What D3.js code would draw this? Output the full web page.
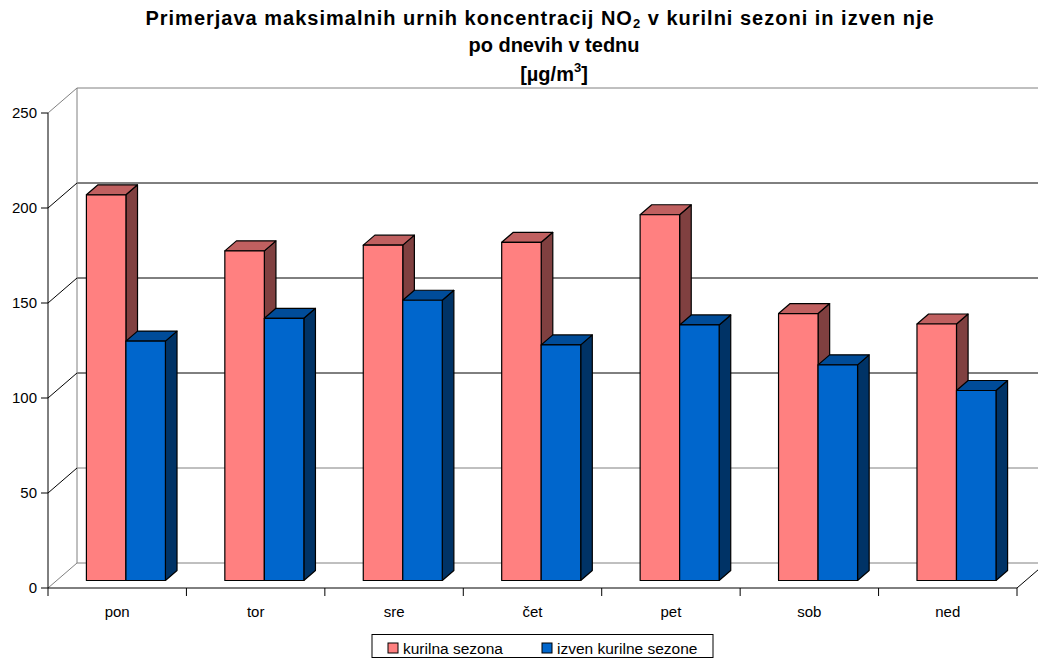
<!DOCTYPE html>
<html><head><meta charset="utf-8">
<script src="https://cdn.jsdelivr.net/npm/d3@7"></script>
<style>
html,body{margin:0;padding:0;background:#fff;}
svg{display:block;font-family:"Liberation Sans",Arial,sans-serif;}
</style></head>
<body>
<svg id="c" width="1038" height="659"></svg>
<script>
const days = ["pon","tor","sre","čet","pet","sob","ned"];
const seriesNames = ["kurilna sezona","izven kurilne sezone"];
const kurilna = [203, 173.5, 176.5, 178, 192.5, 140.5, 135];
const izven = [126, 138, 147.5, 124, 134.5, 113.5, 100];
const yTicks = [0, 50, 100, 150, 200, 250];
const colors = {
  "kurilna sezona": {front:"#FF8080", top:"#C06060", side:"#804040"},
  "izven kurilne sezone": {front:"#0066CC", top:"#004C99", side:"#003366"}
};

const svg = d3.select("#c");
const DX = 29, DY = 25;
const baseY = 588;
const x0 = d3.scaleBand().domain(days).range([48, 1017]).paddingInner(0).paddingOuter(0);
const x1 = d3.scaleBand().domain(seriesNames).range([0, x0.bandwidth()]).paddingInner(0).paddingOuter(0.752);
const yH = d3.scaleLinear().domain([0, 250]).range([0, 475]);
const P = (x, v, t) => [x + DX * t, baseY - DY * t - yH(v)];
const pt = p => p[0] + "," + p[1];

const g = svg.append("g");
yTicks.forEach(v => {
  const a = P(48, v, 1);
  g.append("line").attr("x1", a[0]).attr("y1", a[1]).attr("x2", 1038).attr("y2", a[1])
    .attr("stroke", (v === 0 || v === 250 || v === 50) ? "#808080" : "#000").attr("stroke-width", 1);
});
{
  const a = P(48, 0, 1), b = P(48, 250, 1);
  g.append("line").attr("x1", a[0]).attr("y1", a[1]).attr("x2", b[0]).attr("y2", b[1]).attr("stroke", "#808080");
}
yTicks.forEach(v => {
  const a = P(48, v, 0), b = P(48, v, 1);
  g.append("line").attr("x1", a[0]).attr("y1", a[1]).attr("x2", b[0]).attr("y2", b[1])
    .attr("stroke", (v === 0 || v === 250) ? "#808080" : "#000");
});
{
  const a = P(1017, 0, 0), b = P(1017, 0, 1);
  g.append("line").attr("x1", a[0]).attr("y1", a[1]).attr("x2", b[0]).attr("y2", b[1]).attr("stroke", "#000");
}
svg.append("line").attr("x1", 48).attr("y1", P(48, 0, 0)[1]).attr("x2", 48).attr("y2", P(48, 250, 0)[1]).attr("stroke", "#000");
svg.append("line").attr("x1", 48).attr("y1", baseY).attr("x2", 1017).attr("y2", baseY).attr("stroke", "#000");

yTicks.forEach(v => {
  const y = P(48, v, 0)[1];
  svg.append("line").attr("x1", 41).attr("y1", y).attr("x2", 48).attr("y2", y).attr("stroke", "#000");
  svg.append("text").attr("x", 37).attr("y", y).attr("dy", "0.35em").attr("text-anchor", "end")
    .attr("font-size", 15).attr("fill", "#000").text(v);
});
days.concat(["_end"]).forEach((d, i) => {
  const x = i < days.length ? x0(d) : x0.range()[1];
  svg.append("line").attr("x1", x).attr("y1", baseY).attr("x2", x).attr("y2", baseY + 8).attr("stroke", "#000");
});
days.forEach(d => {
  svg.append("text").attr("x", x0(d) + x0.bandwidth() / 2).attr("y", 617).attr("text-anchor", "middle")
    .attr("font-size", 15).attr("fill", "#000").text(d);
});

const t0 = 0.3, t1 = 0.7;
const bars = svg.append("g").attr("stroke", "#000").attr("stroke-width", 1.2).attr("stroke-linejoin", "round");
days.forEach((d, i) => {
  [[seriesNames[0], kurilna[i]], [seriesNames[1], izven[i]]].forEach(([s, v]) => {
    const xl = x0(d) + x1(s), xr = xl + x1.bandwidth();
    const c = colors[s];
    bars.append("polygon").attr("fill", c.side)
      .attr("points", [P(xr, 0, t0), P(xr, 0, t1), P(xr, v, t1), P(xr, v, t0)].map(pt).join(" "));
    bars.append("polygon").attr("fill", c.top)
      .attr("points", [P(xl, v, t0), P(xl, v, t1), P(xr, v, t1), P(xr, v, t0)].map(pt).join(" "));
    bars.append("polygon").attr("fill", c.front)
      .attr("points", [P(xl, 0, t0), P(xl, v, t0), P(xr, v, t0), P(xr, 0, t0)].map(pt).join(" "));
  });
});

// Title
const title = svg.append("g").attr("font-weight", "bold").attr("fill", "#000").attr("font-family", "Arial,'Liberation Sans',sans-serif");
const l1 = title.append("text").attr("x", 540).attr("y", 25).attr("text-anchor", "middle").attr("font-size", 20).attr("letter-spacing", 1);
l1.append("tspan").text("Primerjava maksimalnih urnih koncentracij NO");
l1.append("tspan").attr("font-size", 13).attr("dy", 3).text("2");
l1.append("tspan").attr("dy", -3).text(" v kurilni sezoni in izven nje");
title.append("text").attr("x", 554).attr("y", 52).attr("text-anchor", "middle").attr("font-size", 20).text("po dnevih v tednu");
const l3 = title.append("text").attr("x", 554).attr("y", 81).attr("text-anchor", "middle").attr("font-size", 20);
l3.append("tspan").text("[µg/m");
l3.append("tspan").attr("font-size", 13).attr("dy", -9).text("3");
l3.append("tspan").attr("dy", 9).text("]");

// Legend
const lg = svg.append("g");
lg.append("rect").attr("x", 372).attr("y", 634.5).attr("width", 341).attr("height", 23)
  .attr("fill", "#fff").attr("stroke", "#000");
const legX = [388, 542];
seriesNames.forEach((s, i) => {
  lg.append("rect").attr("x", legX[i]).attr("y", 643).attr("width", 10).attr("height", 10)
    .attr("fill", colors[s].front).attr("stroke", "#000");
  lg.append("text").attr("x", legX[i] + 15).attr("y", 654).attr("font-size", 15.5).attr("fill", "#000").text(s);
});
</script>
</body></html>
